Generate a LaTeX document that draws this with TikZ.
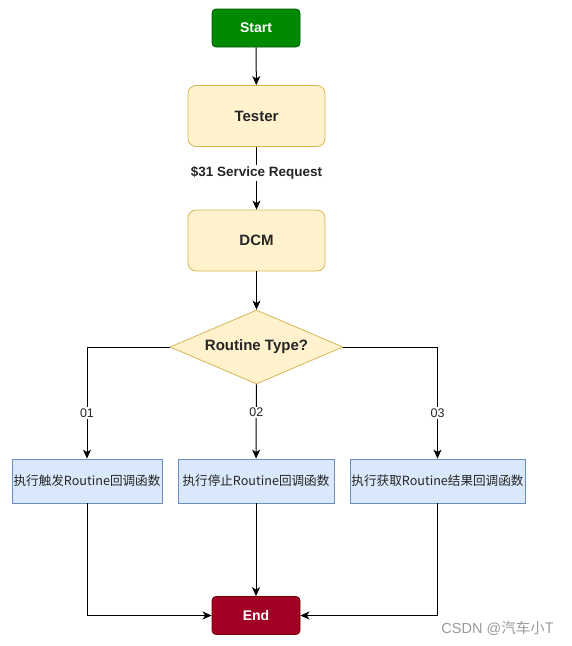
\documentclass[tikz,border=0pt]{standalone}
\usepackage{fontspec}
\setmainfont{Liberation Sans}
\newfontfamily\cjk{Noto Sans CJK SC}
\usetikzlibrary{shapes.geometric,arrows.meta}
\definecolor{startfill}{HTML}{008A00}
\definecolor{startline}{HTML}{005700}
\definecolor{yfill}{HTML}{FFF2CC}
\definecolor{yline}{HTML}{D6B656}
\definecolor{bfill}{HTML}{DAE8FC}
\definecolor{bline}{HTML}{6C8EBF}
\definecolor{endfill}{HTML}{A20025}
\definecolor{endline}{HTML}{6F0000}
\tikzset{
  term/.style={rectangle, rounded corners=4pt, minimum width=88pt, minimum height=38pt, font=\fontsize{14}{16}\selectfont\bfseries, text=white, line width=0.8pt},
  ybox/.style={rectangle, rounded corners=8pt, draw=yline, fill=yfill, minimum width=137pt, minimum height=61pt, font=\fontsize{15}{18}\selectfont\bfseries, text=black!85, line width=0.8pt},
  decide/.style={diamond, aspect=2.34, draw=yline, fill=yfill, inner sep=0pt, minimum width=173pt, minimum height=74pt, font=\fontsize{15}{18}\selectfont\bfseries, text=black!85, line width=0.8pt},
  act/.style={rectangle, draw=bline, fill=bfill, minimum height=44pt, inner sep=0pt, font=\fontsize{12.6}{15}\selectfont, text=black!85, line width=0.8pt},
  conn/.style={line width=1pt, -{Stealth[length=9pt,width=8pt,inset=2.5pt]}},
  lbl/.style={fill=white, inner sep=1.5pt, font=\fontsize{12.5}{15}\selectfont, text=black!85}
}
\begin{document}
\begin{tikzpicture}[x=1pt,y=-1pt]
\useasboundingbox (0,0) rectangle (571,646);
\node[term, fill=startfill, draw=startline] (start) at (256,28) {Start};
\node[ybox] (tester) at (256.5,116) {Tester};
\node[ybox] (dcm) at (256.5,240.5) {DCM};
\node[decide] (type) at (256.5,347) {Routine Type?};
\node[act, minimum width=150pt] (a1) at (87,481) {\cjk{执行触发}Routine\cjk{回调函数}};
\node[act, minimum width=156pt] (a2) at (256,481) {\cjk{执行停止}Routine\cjk{回调函数}};
\node[act, minimum width=175pt] (a3) at (437.5,481) {\cjk{执行获取}Routine\cjk{结果回调函数}};
\node[term, fill=endfill, draw=endline] (end) at (256,615.5) {End};
\coordinate (c1) at (87,347);
\coordinate (c3) at (437.5,347);
\coordinate (d1) at (87,615.5);
\coordinate (d3) at (437.5,615.5);
\draw[conn] (start) -- (tester);
\draw[conn] (tester) -- node[lbl, font=\fontsize{13.5}{16}\selectfont\bfseries, pos=0.42] {\$31 Service Request} (dcm);
\draw[conn] (dcm) -- (type);
\draw[conn] (type.west) -- (c1) -- node[lbl, pos=0.59] {01} (a1);
\draw[conn] (type) -- node[lbl, pos=0.38] {02} (a2);
\draw[conn] (type.east) -- (c3) -- node[lbl, pos=0.59] {03} (a3);
\draw[conn] (a1) -- (d1) -- (end);
\draw[conn] (a2) -- (end);
\draw[conn] (a3) -- (d3) -- (end);
\node[font=\fontsize{14.5}{17}\selectfont, text=black!40, anchor=east] (wm) at (557,628) {CSDN @\cjk{汽车小}T};
\end{tikzpicture}
\end{document}
